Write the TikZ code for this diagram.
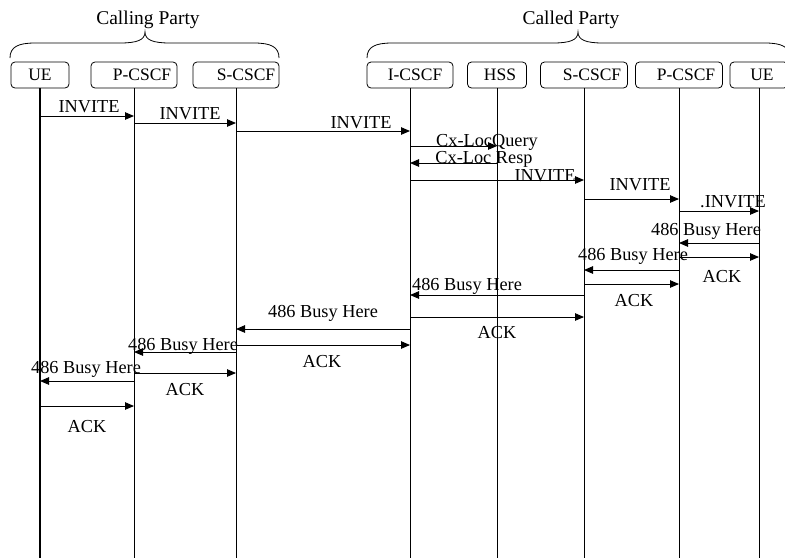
\documentclass[tikz,border=0pt]{standalone}
\usepackage{fontspec}
\setmainfont{Liberation Serif}
\usetikzlibrary{arrows.meta}
\begin{document}
\begin{tikzpicture}[x=1pt,y=-1pt,
  ent/.style={draw, rounded corners=4pt, minimum height=26pt, inner sep=0pt,
              font=\fontsize{17.5}{17.5}\selectfont, line width=0.8pt},
  life/.style={line width=0.9pt},
  msg/.style={line width=0.9pt, -{Triangle[length=9pt,width=7.5pt]}},
  lbl/.style={anchor=base, inner sep=0pt, font=\fontsize{18.3}{18.3}\selectfont},
  party/.style={anchor=base, inner sep=0pt, font=\fontsize{19.5}{19.5}\selectfont},
  brace/.style={line width=0.8pt}]
\useasboundingbox (0,0) rectangle (785,558);

% party captions and their braces
\node[party] (calling) at (148,24) {Calling Party};
\node[party] (called)  at (571,24) {Called Party};
\draw[brace] (10,58) .. controls (10,47) and (18,43) .. (35,43) -- (120,43)
  .. controls (137,43) and (145,40) .. (145,32)
  .. controls (145,40) and (153,43) .. (170,43) -- (254,43)
  .. controls (271,43) and (279,47) .. (279,58);
\draw[brace] (367,58) .. controls (367,47) and (375,43) .. (392,43) -- (553,43)
  .. controls (570,43) and (578,40) .. (578,32)
  .. controls (578,40) and (586,43) .. (603,43) -- (765,43)
  .. controls (782,43) and (790,47) .. (790,58);

% entities
\node[ent, minimum width=58pt] (ue1) at (40,75)  {UE};
\node[ent, minimum width=86pt] (pc1) at (134,75) {\hspace*{16pt}P-CSCF};
\node[ent, minimum width=86pt] (sc1) at (236,75) {\hspace*{20pt}S-CSCF};
\node[ent, minimum width=86pt] (ic)  at (410,75) {\hspace*{10pt}I-CSCF};
\node[ent, minimum width=59pt] (hss) at (497,75) {\hspace*{6pt}HSS};
\node[ent, minimum width=87pt] (sc2) at (584,75) {\hspace*{16pt}S-CSCF};
\node[ent, minimum width=87pt] (pc2) at (679,75) {\hspace*{14pt}P-CSCF};
\node[ent, minimum width=58pt] (ue2) at (759,75) {\hspace*{6pt}UE};

% lifelines
\coordinate (bot) at (0,558);
\draw[life, line width=1.8pt] (ue1.south) -- (ue1.south |- bot);
\foreach \n in {pc1,sc1,ic,hss,sc2,pc2,ue2}
  \draw[life] (\n.south) -- (\n.south |- bot);

% messages: from, to, height, label, label x, label baseline
\foreach \a/\b/\y/\t/\lx/\ly [count=\i] in {
  ue1/pc1/116/INVITE/89/112,
  pc1/sc1/123/INVITE/190/119,
  sc1/ic/131/INVITE/361/128,
  ic/hss/146/Cx-LocQuery/487/146,
  hss/ic/163/Cx-Loc Resp/484/163,
  ic/sc2/180/INVITE/545/181,
  sc2/pc2/199/INVITE/640/190,
  pc2/ue2/211/.INVITE/733/207,
  ue2/pc2/243/486 Busy Here/706/235,
  pc2/ue2/257/ACK/722/282,
  pc2/sc2/270/486 Busy Here/633/260,
  sc2/pc2/284/ACK/634/306,
  sc2/ic/295/486 Busy Here/467/290,
  ic/sc2/317/ACK/497/338,
  ic/sc1/329/486 Busy Here/323/317,
  sc1/ic/345/ACK/322/367,
  sc1/pc1/352/486 Busy Here/183/350,
  pc1/sc1/373/ACK/185/395,
  pc1/ue1/381/486 Busy Here/86/373,
  ue1/pc1/406/ACK/87/432} {
  \draw[msg] (\a |- 0,\y) -- (\b |- 0,\y);
  \node[lbl] (m\i) at (\lx,\ly) {\t};
}
\end{tikzpicture}
\end{document}
